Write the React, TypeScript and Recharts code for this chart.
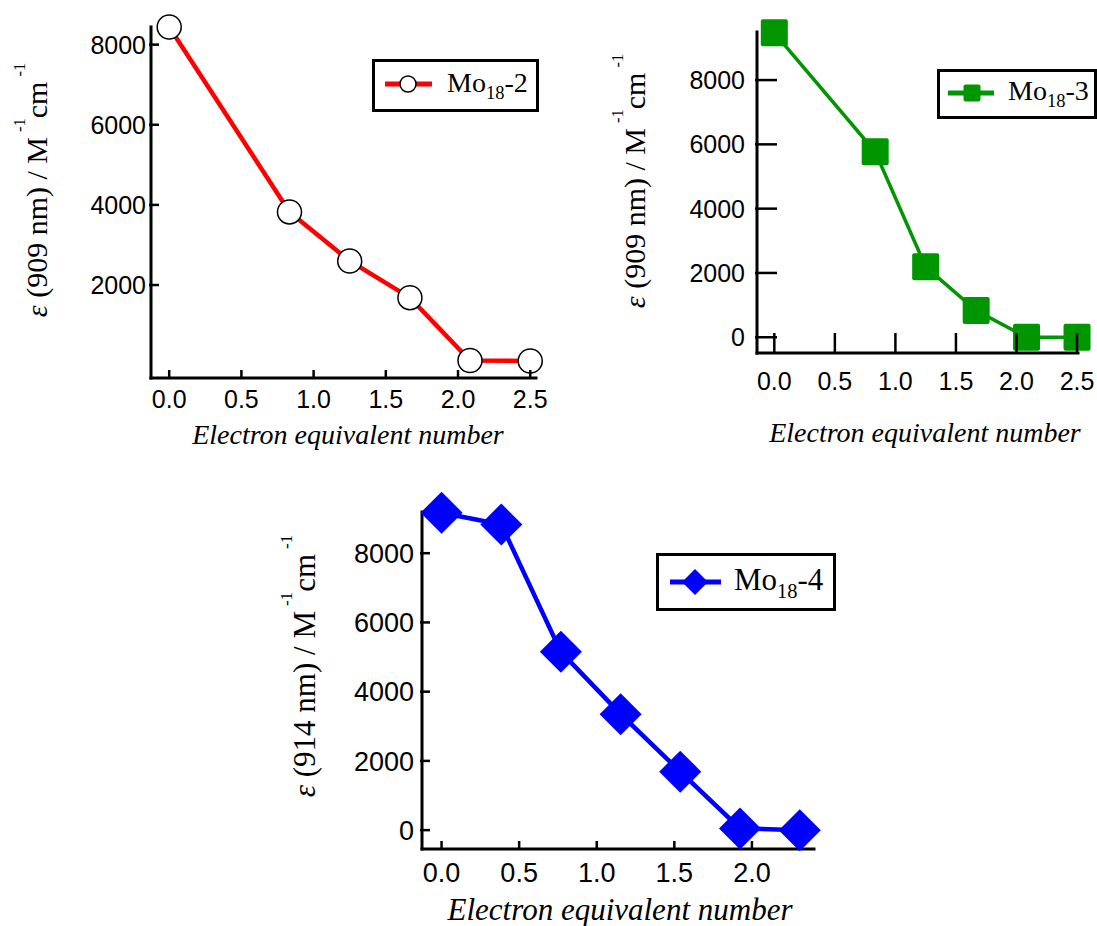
import React from 'react';
import { LineChart, Line, XAxis, YAxis, Legend } from 'recharts';

// Mo18-2, epsilon at 909 nm
const xMo2 = [0, 0.833, 1.25, 1.667, 2.083, 2.5];
const epsMo2 = [8440, 3825, 2600, 1685, 115, 105];

// Mo18-3, epsilon at 909 nm
const xMo3 = [0, 0.833, 1.25, 1.667, 2.083, 2.5];
const epsMo3 = [9470, 5770, 2190, 830, 0, 0];

// Mo18-4, epsilon at 914 nm
const xMo4 = [0, 0.385, 0.769, 1.154, 1.538, 1.923, 2.308];
const epsMo4 = [9170, 8830, 5150, 3350, 1690, 50, 0];

const xTicksA = [0, 0.5, 1, 1.5, 2, 2.5];
const xTicksB = [0, 0.5, 1, 1.5, 2];
const yTicksA = [2000, 4000, 6000, 8000];
const yTicksB = [0, 2000, 4000, 6000, 8000];

const SANS = '"Liberation Sans", Arial, sans-serif';
const SERIF = '"Liberation Serif", "Times New Roman", serif';

const toPoints = (xs: number[], ys: number[]) => xs.map((x, i) => ({ x, y: ys[i] }));

// markers
const Circle = ({ cx, cy, r }: any) => (
  <circle cx={cx} cy={cy} r={r} fill="#fff" stroke="#000" strokeWidth={1.5} />
);
const Square = ({ cx, cy, s, color }: any) => (
  <rect x={cx - s / 2} y={cy - s / 2} width={s} height={s} rx={2} fill={color} />
);
const Diamond = ({ cx, cy, h, color }: any) => (
  <path d={`M${cx},${cy - h}L${cx + h},${cy}L${cx},${cy + h}L${cx - h},${cy}Z`} fill={color} />
);

const makeXTick = (len: number, dy: number, fs: number) => (p: any) => (
  <g key={`xt${p.index}`}>
    <line x1={p.x} y1={p.y} x2={p.x} y2={p.y - len} stroke="#000" strokeWidth={2.5} />
    <text x={p.x} y={p.y + dy} textAnchor="middle" fontSize={fs} fontFamily={SANS} fill="#000">
      {Number(p.payload.value).toFixed(1)}
    </text>
  </g>
);

const makeYTick = (len: number, dx: number, fs: number) => (p: any) => (
  <g key={`yt${p.index}`}>
    <line x1={p.x - 2} y1={p.y} x2={p.x + len} y2={p.y} stroke="#000" strokeWidth={2.5} />
    <text x={p.x - dx} y={p.y + fs * 0.36} textAnchor="end" fontSize={fs} fontFamily={SANS} fill="#000">
      {p.payload.value}
    </text>
  </g>
);

const YTitle = ({ bx, cy, fs, nm }: any) => (
  <text transform="rotate(-90)" x={-cy} y={bx} textAnchor="middle" fontSize={fs} fontFamily={SERIF} fill="#000">
    <tspan fontStyle="italic">ε</tspan>
    <tspan>{` (${nm} nm) / M`}</tspan>
    <tspan dx={5} dy={-fs * 0.75} fontSize={fs * 0.55}>-1</tspan>
    <tspan dy={fs * 0.75}>cm</tspan>
    <tspan dx={5} dy={-fs * 0.75} fontSize={fs * 0.55}>-1</tspan>
  </text>
);

const XTitle = ({ cx, by, fs }: any) => (
  <text x={cx} y={by} textAnchor="middle" fontSize={fs} fontFamily={SERIF} fontStyle="italic" fill="#000">
    Electron equivalent number
  </text>
);

const LegendBox = ({ w, h, color, lineW, x1, x2, ly, marker, tx, ty, fs, name }: any) => (
  <svg width={w} height={h} style={{ display: 'block' }}>
    <rect x={1.5} y={1.5} width={w - 3} height={h - 3} fill="#fff" stroke="#000" strokeWidth={3} />
    <line x1={x1} y1={ly} x2={x2} y2={ly} stroke={color} strokeWidth={lineW} />
    {marker}
    <text x={tx} y={ty} fontSize={fs} fontFamily={SERIF} fill="#000">
      Mo
      <tspan dy={fs * 0.25} fontSize={fs * 0.66}>18</tspan>
      <tspan dy={-fs * 0.25}>{`-${name}`}</tspan>
    </text>
  </svg>
);

const Panel = (c: any) => (
  <div style={{ position: 'absolute', left: c.left, top: c.top }}>
    <LineChart width={c.width} height={c.height} data={c.data} margin={c.margin}>
      <XAxis
        type="number"
        dataKey="x"
        domain={c.xDomain}
        ticks={c.xTicks}
        height={c.xAxisHeight}
        tickSize={0}
        tickMargin={0}
        tickLine={false}
        axisLine={{ stroke: '#000', strokeWidth: 3, strokeLinecap: 'square' }}
        tick={makeXTick(c.tickLen, c.xLabelDy, c.tickFont)}
        label={<XTitle {...c.xTitle} />}
      />
      <YAxis
        type="number"
        dataKey="y"
        domain={c.yDomain}
        ticks={c.yTicks}
        width={c.yAxisWidth}
        tickSize={0}
        tickMargin={0}
        tickLine={false}
        axisLine={{ stroke: '#000', strokeWidth: 3, strokeLinecap: 'square' }}
        tick={makeYTick(c.tickLen, c.yLabelDx, c.tickFont)}
        label={<YTitle {...c.yTitle} />}
      />
      <Legend
        layout="vertical"
        align="center"
        verticalAlign="middle"
        wrapperStyle={{ left: c.legend.left, top: c.legend.top, width: c.legend.w, height: c.legend.h }}
        content={() => <LegendBox {...c.legend} color={c.color} />}
      />
      <Line
        type="linear"
        dataKey="y"
        stroke={c.color}
        strokeWidth={c.strokeWidth}
        dot={c.dot}
        activeDot={false}
        isAnimationActive={false}
      />
    </LineChart>
  </div>
);

export default function App() {
  return (
    <div style={{ position: 'absolute', left: 0, top: 0, width: 1097, height: 926, background: '#fff' }}>
      <Panel
        left={0}
        top={0}
        width={560}
        height={460}
        margin={{ top: 27, right: 24, bottom: 0, left: 0 }}
        yAxisWidth={151}
        xAxisHeight={82}
        data={toPoints(xMo2, epsMo2)}
        xDomain={[-0.126, 2.54]}
        yDomain={[-320, 8440]}
        xTicks={xTicksA}
        yTicks={yTicksA}
        tickLen={8}
        xLabelDy={30}
        yLabelDx={5}
        tickFont={25}
        color="#ff0000"
        strokeWidth={4.5}
        dot={(p: any) => <Circle key={`c${p.index}`} cx={p.cx} cy={p.cy} r={12} />}
        yTitle={{ bx: 47, cy: 190, fs: 30, nm: '909' }}
        xTitle={{ cx: 348, by: 444, fs: 28 }}
        legend={{
          left: 372, top: 59, w: 167, h: 53, lineW: 5, x1: 13, x2: 60, ly: 25,
          marker: <Circle cx={36} cy={25} r={8} />, tx: 75, ty: 33, fs: 28, name: '2',
        }}
      />
      <Panel
        left={560}
        top={0}
        width={537}
        height={460}
        margin={{ top: 32, right: 19, bottom: 0, left: 0 }}
        yAxisWidth={197}
        xAxisHeight={107}
        data={toPoints(xMo3, epsMo3)}
        xDomain={[-0.143, 2.508]}
        yDomain={[-490, 9495]}
        xTicks={xTicksA}
        yTicks={yTicksB}
        tickLen={20}
        xLabelDy={37}
        yLabelDx={12}
        tickFont={25}
        color="#009600"
        strokeWidth={3.5}
        dot={(p: any) => <Square key={`s${p.index}`} cx={p.cx} cy={p.cy} s={27} color="#009600" />}
        yTitle={{ bx: 85, cy: 181, fs: 30, nm: '909' }}
        xTitle={{ cx: 365, by: 442, fs: 28 }}
        legend={{
          left: 377, top: 69, w: 160, h: 50, lineW: 5, x1: 11, x2: 57, ly: 24,
          marker: <Square cx={35} cy={24} s={17} color="#009600" />, tx: 71, ty: 31, fs: 28, name: '3',
        }}
      />
      <Panel
        left={250}
        top={470}
        width={590}
        height={456}
        margin={{ top: 42, right: 26, bottom: 0, left: 0 }}
        yAxisWidth={172}
        xAxisHeight={77}
        data={toPoints(xMo4, epsMo4)}
        xDomain={[-0.126, 2.4]}
        yDomain={[-545, 9190]}
        xTicks={xTicksB}
        yTicks={yTicksB}
        tickLen={8}
        xLabelDy={33}
        yLabelDx={8}
        tickFont={27}
        color="#0000ff"
        strokeWidth={4.5}
        dot={(p: any) => <Diamond key={`d${p.index}`} cx={p.cx} cy={p.cy} h={21} color="#0000ff" />}
        yTitle={{ bx: 65, cy: 196, fs: 31, nm: '914' }}
        xTitle={{ cx: 370, by: 450, fs: 31 }}
        legend={{
          left: 406, top: 83, w: 180, h: 58, lineW: 5, x1: 14, x2: 65, ly: 29,
          marker: <Diamond cx={39} cy={29} h={13} color="#0000ff" />, tx: 78, ty: 37, fs: 31, name: '4',
        }}
      />
    </div>
  );
}
